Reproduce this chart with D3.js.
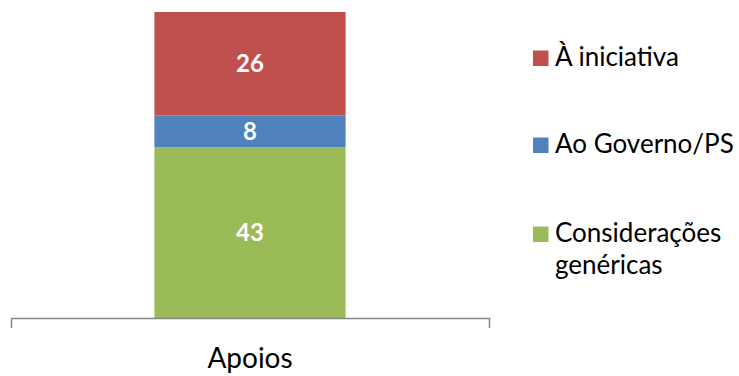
<!DOCTYPE html>
<html>
<head>
<meta charset="utf-8">
<script src="https://cdn.jsdelivr.net/npm/d3@7"></script>
<style>
  body { margin: 0; background: #fff; }
  svg { display: block; font-family: Lato, "Open Sans", sans-serif; }
</style>
</head>
<body>
<div id="chart"></div>
<script>
const categories = ["Apoios"]
const seriesNames = ["Considerações genéricas", "Ao Governo/PS", "À iniciativa"]
const seriesValues = [[43], [8], [26]]
const seriesColors = ["#9BBB59", "#4F81BD", "#C0504D"]

const width = 739, height = 376

const svg = d3.select("#chart")
  .append("svg")
  .attr("width", width)
  .attr("height", height)

const rows = categories.map((c, i) => {
  const row = { category: c }
  seriesNames.forEach((s, j) => row[s] = seriesValues[j][i])
  return row
})

const stacked = d3.stack().keys(seriesNames)(rows)
const total = d3.max(stacked[stacked.length - 1], d => d[1])

const x = d3.scaleBand()
  .domain(categories)
  .range([11, 489])
  .padding(0.4286)

const y = d3.scaleLinear()
  .domain([0, total])
  .range([318, 12])

const color = d3.scaleOrdinal().domain(seriesNames).range(seriesColors)

// bars
const layer = svg.selectAll("g.layer")
  .data(stacked)
  .enter()
  .append("g")
  .attr("class", "layer")
  .attr("fill", d => color(d.key))

layer.selectAll("rect")
  .data(d => d)
  .enter()
  .append("rect")
  .attr("x", d => x(d.data.category))
  .attr("y", d => y(d[1]))
  .attr("width", x.bandwidth())
  .attr("height", d => y(d[0]) - y(d[1]))

// value labels
layer.selectAll("text")
  .data(d => d)
  .enter()
  .append("text")
  .attr("x", d => x(d.data.category) + x.bandwidth() / 2)
  .attr("y", d => (y(d[0]) + y(d[1])) / 2)
  .attr("dy", "0.36em")
  .attr("text-anchor", "middle")
  .attr("fill", "#fff")
  .attr("font-weight", "bold")
  .attr("font-size", 24)
  .text(d => d[1] - d[0])

// axis
const axis = svg.append("g")
  .attr("transform", "translate(0, 318)")
  .call(d3.axisBottom(x).tickSizeInner(0).tickSizeOuter(10))

axis.select(".domain").attr("stroke", "#868686").attr("stroke-width", 1.5)
axis.selectAll("text")
  .attr("y", 50)
  .attr("dy", 0)
  .attr("fill", "#000")
  .attr("font-size", 28)
  .attr("font-family", "Lato, 'Open Sans', sans-serif")

// legend
const legendItems = [
  { name: "À iniciativa", lines: ["À iniciativa"], y: 66 },
  { name: "Ao Governo/PS", lines: ["Ao Governo/PS"], y: 153 },
  { name: "Considerações genéricas", lines: ["Considerações", "genéricas"], y: 242 }
]

const legend = svg.selectAll("g.legend")
  .data(legendItems)
  .enter()
  .append("g")
  .attr("class", "legend")

legend.append("rect")
  .attr("x", 533)
  .attr("y", d => d.y - 15.5)
  .attr("width", 15.5)
  .attr("height", 15.5)
  .attr("fill", d => color(d.name))

legend.append("text")
  .attr("x", 555)
  .attr("y", d => d.y)
  .attr("font-size", 26)
  .attr("fill", "#000")
  .selectAll("tspan")
  .data(d => d.lines)
  .enter()
  .append("tspan")
  .attr("x", 555)
  .attr("dy", (d, i) => i === 0 ? 0 : 32)
  .text(d => d)
</script>
</body>
</html>
